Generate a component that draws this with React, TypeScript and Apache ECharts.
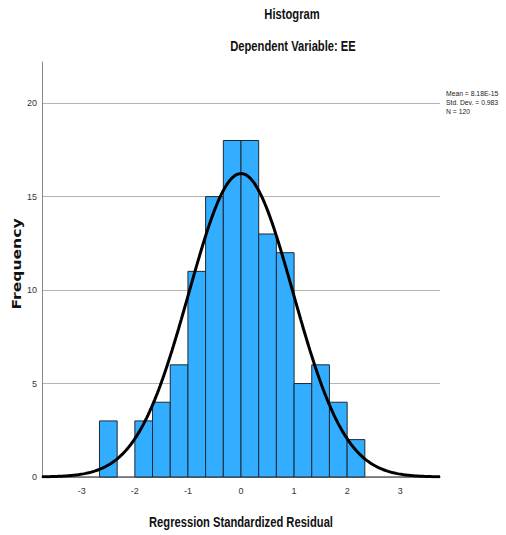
import React, { useEffect, useRef } from "react";
import * as echarts from "echarts";

const BIN_LOWER = [-2.667, -2.333, -2, -1.667, -1.333, -1, -0.667, -0.333, 0, 0.333, 0.667, 1, 1.333, 1.667, 2];
const COUNTS = [3, 0, 3, 4, 6, 11, 15, 18, 18, 13, 12, 5, 6, 4, 2];
const BIN_WIDTH = 1 / 3;
const X_TICKS = [-3, -2, -1, 0, 1, 2, 3];
const Y_TICKS = [0, 5, 10, 15, 20];
const MEAN = 8.18e-15;
const STD_DEV = 0.983;
const N = 120;
const STATS_TEXT = ["Mean = 8.18E-15", "Std. Dev. = 0.983", "N = 120"];

const X_MIN = -3.75;
const X_MAX = 3.75;

const SANS = '"Liberation Sans", Arial, sans-serif';

export default function App() {
  const ref = useRef<HTMLDivElement>(null);
  useEffect(() => {
    if (!ref.current) return;
    const chart = echarts.init(ref.current, null, { renderer: "svg" });
    const bars = BIN_LOWER.map((lo, i) => [lo, lo + BIN_WIDTH, COUNTS[i]]);
    // normal curve defined by the reported statistics
    const curve: number[][] = [];
    const steps = 300;
    for (let i = 0; i <= steps; i++) {
      const x = X_MIN + ((X_MAX - X_MIN) * i) / steps;
      const z = (x - MEAN) / STD_DEV;
      const y = ((N * BIN_WIDTH) / (STD_DEV * Math.sqrt(2 * Math.PI))) * Math.exp(-0.5 * z * z);
      curve.push([x, y]);
    }
    const title = (text: string, x: number, y: number) => ({
      type: "text",
      x,
      y,
      scaleX: 0.8,
      style: { text, font: `bold 14px ${SANS}`, fill: "#111", align: "center", verticalAlign: "middle" },
    });
    chart.setOption({
      animation: false,
      grid: { left: 42, right: 66, top: 62, bottom: 58 },
      xAxis: {
        type: "value",
        min: X_MIN,
        max: X_MAX,
        axisLine: { show: true, onZero: false, lineStyle: { color: "#666", width: 1.5 } },
        axisTick: { show: false },
        splitLine: { show: false },
        axisLabel: {
          customValues: X_TICKS,
          color: "#333",
          fontSize: 9,
          fontFamily: SANS,
          margin: 9,
        },
      },
      yAxis: {
        type: "value",
        min: 0,
        max: 22.2,
        axisLine: { show: true, onZero: false, lineStyle: { color: "#888" } },
        axisTick: { show: false, customValues: Y_TICKS },
        splitLine: { show: true, lineStyle: { color: "#b4b4b4", width: 1 } },
        axisLabel: {
          customValues: Y_TICKS,
          color: "#333",
          fontSize: 9,
          fontFamily: SANS,
          margin: 5,
        },
      },
      graphic: [
        title("Histogram", 292, 15),
        title("Dependent Variable: EE", 293, 47),
        title("Regression Standardized Residual", 241, 523),
        {
          type: "text",
          x: 16,
          y: 264,
          rotation: Math.PI / 2,
          scaleX: 1.2,
          style: { text: "Frequency", font: `bold 13px "DejaVu Sans", sans-serif`, fill: "#111", align: "center", verticalAlign: "middle" },
        },
        ...STATS_TEXT.map((t, i) => ({
          type: "text",
          x: 446,
          y: 93 + i * 9,
          scaleX: 0.85,
          style: { text: t, font: `8px ${SANS}`, fill: "#222", align: "left", verticalAlign: "middle" },
        })),
      ],
      series: [
        {
          type: "custom",
          data: bars,
          encode: { x: [0, 1], y: 2 },
          renderItem: (params: any, api: any) => {
            const lo = api.value(0);
            const hi = api.value(1);
            const c = api.value(2);
            if (!c) return null;
            const p0 = api.coord([lo, c]);
            const p1 = api.coord([hi, 0]);
            return {
              type: "rect",
              shape: { x: p0[0], y: p0[1], width: p1[0] - p0[0], height: p1[1] - p0[1] },
              style: { fill: "#33adff", stroke: "#1d2a33", lineWidth: 1 },
            };
          },
          z: 2,
        },
        {
          type: "line",
          data: curve,
          showSymbol: false,
          symbol: "none",
          lineStyle: { color: "#000", width: 3 },
          z: 3,
        },
      ],
    });
    return () => chart.dispose();
  }, []);
  return <div ref={ref} style={{ width: 506, height: 535, position: "absolute", left: 0, top: 0 }} />;
}
